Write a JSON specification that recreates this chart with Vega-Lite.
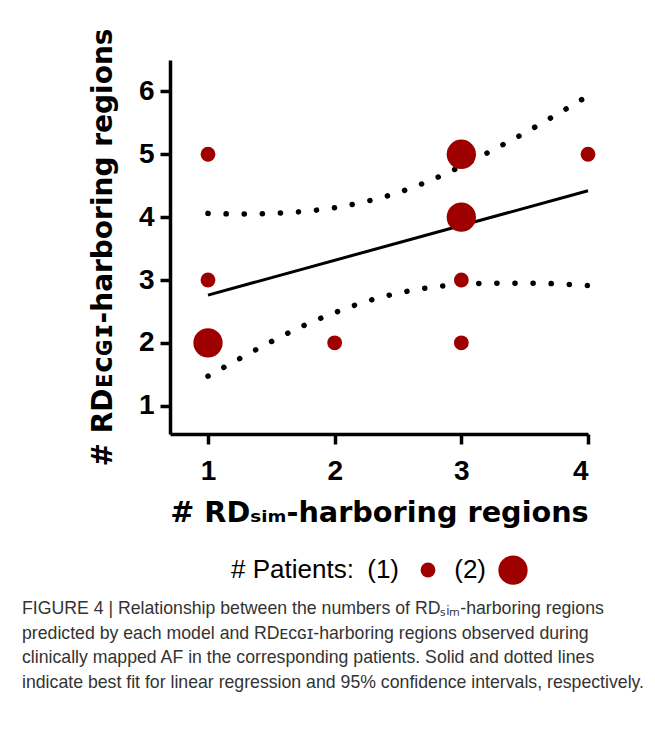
{
  "$schema": "https://vega.github.io/schema/vega-lite/v6.json",
  "width": 418,
  "height": 374,
  "padding": {"left": 22, "top": 27, "right": 0, "bottom": 0},
  "background": "white",
  "datasets": {
    "pts": [
      {"x": 1, "y": 5, "n": 1},
      {"x": 1, "y": 3, "n": 1},
      {"x": 1, "y": 2, "n": 2},
      {"x": 2, "y": 2, "n": 1},
      {"x": 3, "y": 5, "n": 2},
      {"x": 3, "y": 4, "n": 2},
      {"x": 3, "y": 3, "n": 1},
      {"x": 3, "y": 2, "n": 1},
      {"x": 4, "y": 5, "n": 1}
    ],
    "fit": [
      {"x": 1, "y": 2.76},
      {"x": 4, "y": 4.42}
    ],
    "ci": [
      {"x": 1.0, "lo": 1.47, "hi": 4.06},
      {"x": 1.25, "lo": 1.75, "hi": 4.05},
      {"x": 1.5, "lo": 2.02, "hi": 4.06},
      {"x": 1.75, "lo": 2.27, "hi": 4.09},
      {"x": 2.0, "lo": 2.48, "hi": 4.15},
      {"x": 2.25, "lo": 2.66, "hi": 4.25},
      {"x": 2.5, "lo": 2.79, "hi": 4.39},
      {"x": 2.75, "lo": 2.88, "hi": 4.58},
      {"x": 3.0, "lo": 2.93, "hi": 4.81},
      {"x": 3.25, "lo": 2.95, "hi": 5.07},
      {"x": 3.5, "lo": 2.95, "hi": 5.34},
      {"x": 3.75, "lo": 2.94, "hi": 5.63},
      {"x": 4.0, "lo": 2.91, "hi": 5.93}
    ]
  },
  "title": {
    "text": [
      "FIGURE 4 | Relationship between the numbers of RDₛᵢₘ-harboring regions",
      "predicted by each model and RDᴇᴄɢɪ-harboring regions observed during",
      "clinically mapped AF in the corresponding patients. Solid and dotted lines",
      "indicate best fit for linear regression and 95% confidence intervals, respectively."
    ],
    "orient": "bottom",
    "anchor": "start",
    "frame": "group",
    "dx": -148,
    "offset": 15,
    "font": "Liberation Sans",
    "fontSize": 17.7,
    "fontWeight": "normal",
    "color": "#333333",
    "lineHeight": 24.5
  },
  "layer": [
    {
      "data": {"name": "fit"},
      "mark": {"type": "line", "color": "black", "strokeWidth": 3},
      "encoding": {
        "x": {"field": "x", "type": "quantitative", "scale": {"domain": [0.7, 4], "nice": false, "zero": false},
          "axis": {"values": [1, 2, 3, 4], "format": "d", "title": "# RDₛᵢₘ-harboring regions", "titleFontSize": 28.7, "titlePadding": 13, "labelPadding": 13}},
        "y": {"field": "y", "type": "quantitative", "scale": {"domain": [0.55, 6.5], "nice": false, "zero": false},
          "axis": {"values": [1, 2, 3, 4, 5, 6], "format": "d", "title": "# RDᴇᴄɢɪ-harboring regions", "titlePadding": 21, "labelPadding": 6}}
      }
    },
    {
      "data": {"name": "ci"},
      "mark": {"type": "line", "color": "black", "strokeWidth": 5.5, "strokeDash": [0.1, 18], "strokeCap": "round", "interpolate": "monotone"},
      "encoding": {
        "x": {"field": "x", "type": "quantitative"},
        "y": {"field": "hi", "type": "quantitative"}
      }
    },
    {
      "data": {"name": "ci"},
      "mark": {"type": "line", "color": "black", "strokeWidth": 5.5, "strokeDash": [0.1, 18], "strokeCap": "round", "interpolate": "monotone"},
      "encoding": {
        "x": {"field": "x", "type": "quantitative"},
        "y": {"field": "lo", "type": "quantitative"}
      }
    },
    {
      "data": {"name": "pts"},
      "mark": {"type": "circle", "color": "#9e0000", "opacity": 1},
      "encoding": {
        "x": {"field": "x", "type": "quantitative"},
        "y": {"field": "y", "type": "quantitative"},
        "size": {
          "field": "n",
          "type": "ordinal",
          "scale": {"domain": [1, 2], "range": [220, 860]},
          "legend": {
            "title": "# Patients:",
            "orient": "bottom",
            "direction": "horizontal",
            "titleOrient": "left",
            "titleFont": "Liberation Sans",
            "titleFontSize": 26,
            "titleFontWeight": "normal",
            "titleColor": "black",
            "titlePadding": 61,
            "labelFont": "Liberation Sans",
            "labelFontSize": 26,
            "labelColor": "black",
            "labelExpr": "'(' + datum.label + ')'",
            "labelAlign": "right",
            "labelOffset": -42,
            "columnPadding": 18,
            "offset": 28,
            "symbolFillColor": "#9e0000",
            "symbolStrokeWidth": 0,
            "symbolOpacity": 1
          }
        }
      }
    }
  ],
  "config": {
    "font": "Liberation Sans",
    "view": {"stroke": null},
    "legend": {"layout": {"bottom": {"anchor": "middle"}}},
    "axis": {
      "grid": false,
      "domainColor": "black",
      "domainWidth": 3.5,
      "tickColor": "black",
      "tickWidth": 3.5,
      "tickSize": 10,
      "labelFont": "Liberation Sans",
      "labelFontSize": 28,
      "labelFontWeight": "bold",
      "labelColor": "black",
      "titleFont": "DejaVu Sans",
      "titleFontSize": 28,
      "titleFontWeight": "bold",
      "titleColor": "black"
    }
  }
}
